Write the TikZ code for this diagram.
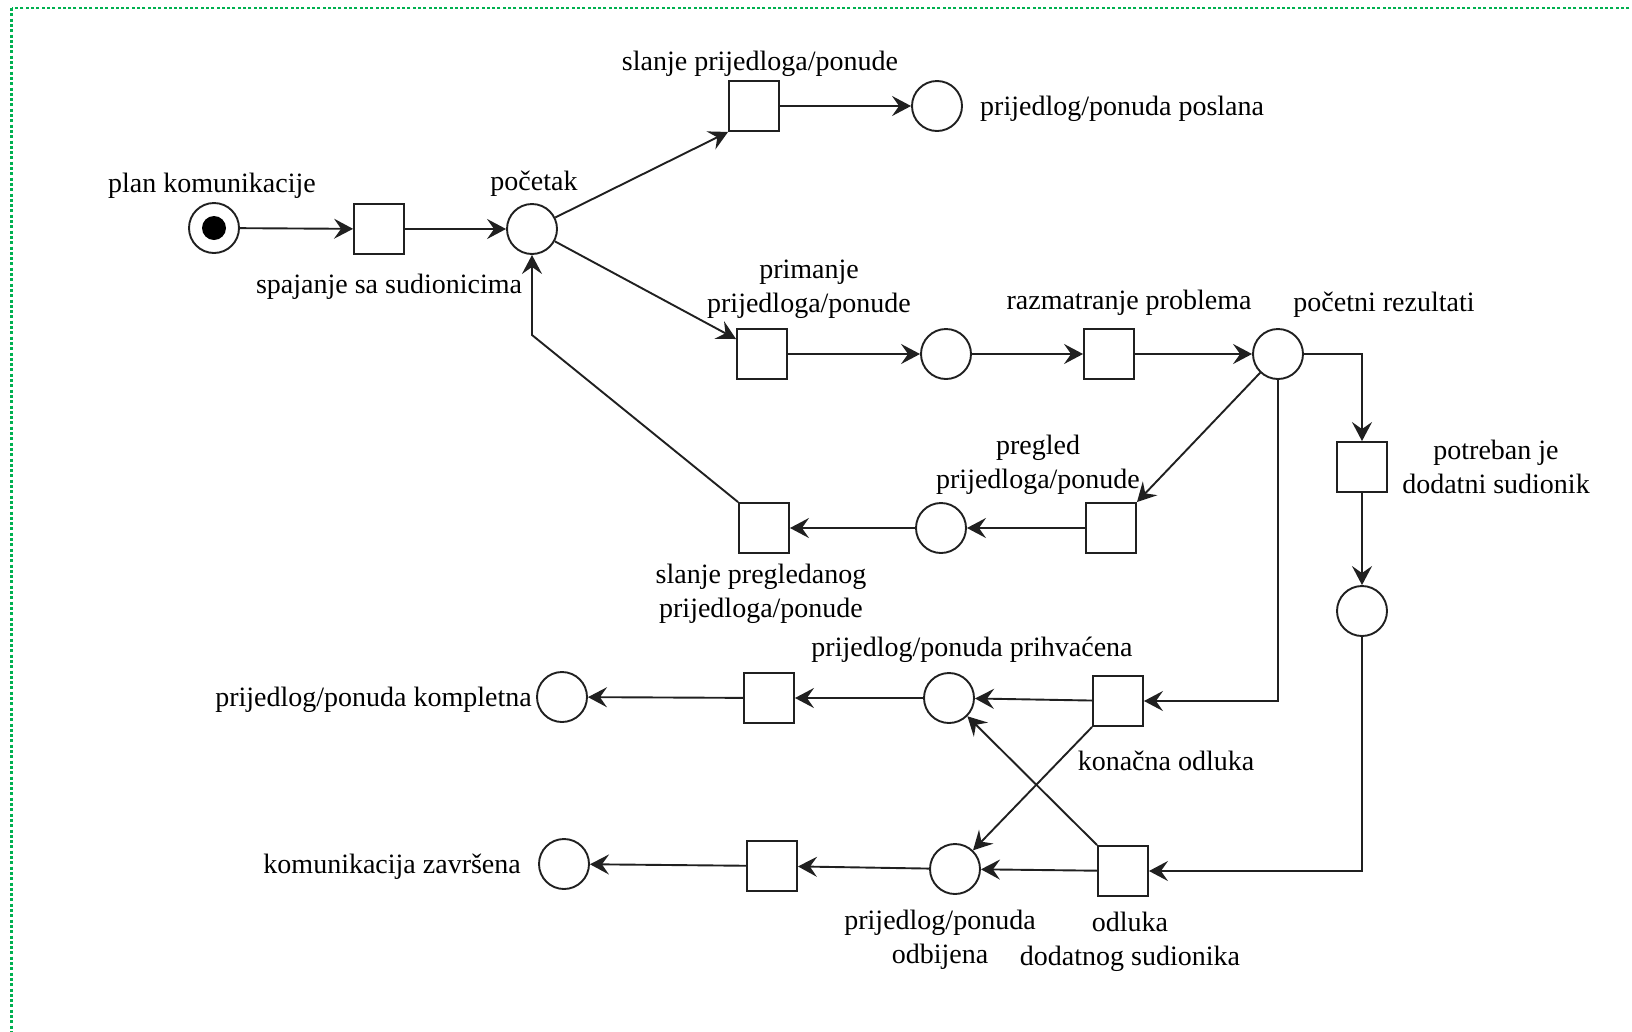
\documentclass[tikz,border=0pt]{standalone}
\usepackage{fontspec}
\setmainfont{Liberation Serif}
\usetikzlibrary{arrows.meta,calc}
\definecolor{bordergreen}{HTML}{00B050}
\definecolor{ink}{HTML}{202020}
\begin{document}
\begin{tikzpicture}[x=1pt,y=-1pt,
  place/.style={circle,draw=ink,line width=1.9pt,minimum size=50pt,inner sep=0pt},
  trans/.style={rectangle,draw=ink,line width=1.9pt,minimum width=50pt,minimum height=50pt,inner sep=0pt},
  token/.style={circle,fill=black,minimum size=24pt,inner sep=0pt},
  lbl/.style={font=\fontsize{28}{34}\selectfont,align=center,inner sep=0pt,text=black},
  arc/.style={draw=ink,line width=1.9pt,-{Stealth[length=19pt,width=20pt,inset=7pt]}},
  frame/.style={draw=bordergreen,line width=2.6pt,dash pattern=on 3pt off 2.3pt},
]
\useasboundingbox (0,0) rectangle (1632,1031);
\clip (0,0) rectangle (1632,1031);
\fill[white] (0,0) rectangle (1632,1031);
\draw[frame] (11.5,8) rectangle (1700,1100);

% places and transitions
\node[place] (P0) at (214,228) {};
\node[token] (tok) at (P0) {};
\node[trans] (T1) at (379,229) {};
\node[place] (P1) at (532,229) {};
\node[trans] (T2) at (754,106) {};
\node[place] (P2) at (937,106) {};
\node[trans] (T3) at (762,354) {};
\node[place] (P3) at (946,354) {};
\node[trans] (T4) at (1109,354) {};
\node[place] (P4) at (1278,354) {};
\node[trans] (T5) at (1362,467) {};
\node[place] (P5) at (1362,611) {};
\node[trans] (T6) at (1111,528) {};
\node[place] (P6) at (941,528) {};
\node[trans] (T7) at (764,528) {};
\node[trans] (T8) at (1118,701) {};
\node[place] (P7) at (949,698) {};
\node[trans] (T10) at (769,698) {};
\node[place] (P9) at (562,697) {};
\node[trans] (T9) at (1123,871) {};
\node[place] (P8) at (955,869) {};
\node[trans] (T11) at (772,866) {};
\node[place] (P10) at (564,864) {};
\coordinate (bend) at (532,335);

% labels
\node[lbl] (L0) at (212,186) {plan komunikacije};
\node[lbl] (L1) at (389,287) {spajanje sa sudionicima};
\node[lbl] (L2) at (534,184) {početak};
\node[lbl] (L3) at (760,64) {slanje prijedloga/ponude};
\node[lbl,anchor=west] (L4) at (980,109) {prijedlog/ponuda poslana};
\node[lbl] (L5) at (809,289) {primanje\\prijedloga/ponude};
\node[lbl] (L6) at (1129,303) {razmatranje problema};
\node[lbl] (L7) at (1384,305) {početni rezultati};
\node[lbl] (L8) at (1496,467) {potreban je\\dodatni sudionik};
\node[lbl] (L9) at (1038,465) {pregled\\prijedloga/ponude};
\node[lbl] (L10) at (761,594) {slanje pregledanog\\prijedloga/ponude};
\node[lbl] (L11) at (972,650) {prijedlog/ponuda prihvaćena};
\node[lbl,anchor=east] (L12) at (532,700) {prijedlog/ponuda kompletna};
\node[lbl] (L13) at (1166,761) {konačna odluka};
\node[lbl,anchor=east] (L14) at (521,867) {komunikacija završena};
\node[lbl] (L15) at (940,940) {prijedlog/ponuda\\odbijena};
\node[lbl] (L16) at (1130,942) {odluka\\dodatnog sudionika};

% arcs
\draw[arc] (P0) -- (T1);
\draw[arc] (T1) -- (P1);
\draw[arc] (P1) -- (T2.south west);
\draw[arc] (T2) -- (P2);
\draw[arc] (P1) -- (T3.150);
\draw[arc] (T3) -- (P3);
\draw[arc] (P3) -- (T4);
\draw[arc] (T4) -- (P4);
\draw[arc] (P4) -| (T5);
\draw[arc] (T5) -- (P5);
\draw[arc] (P5) |- (T9);
\draw[arc] (P4) |- (T8);
\draw[arc] (P4) -- (T6.north east);
\draw[arc] (T6) -- (P6);
\draw[arc] (P6) -- (T7);
\draw[arc] (T7.north west) -- (bend) -- (P1.south);
\draw[arc] (T8) -- (P7);
\draw[arc] (P7) -- (T10);
\draw[arc] (T10) -- (P9);
\draw[arc] (T9) -- (P8);
\draw[arc] (P8) -- (T11);
\draw[arc] (T11) -- (P10);
\draw[arc] (T8.south west) -- (P8);
\draw[arc] (T9.north west) -- (P7);
\end{tikzpicture}
\end{document}
